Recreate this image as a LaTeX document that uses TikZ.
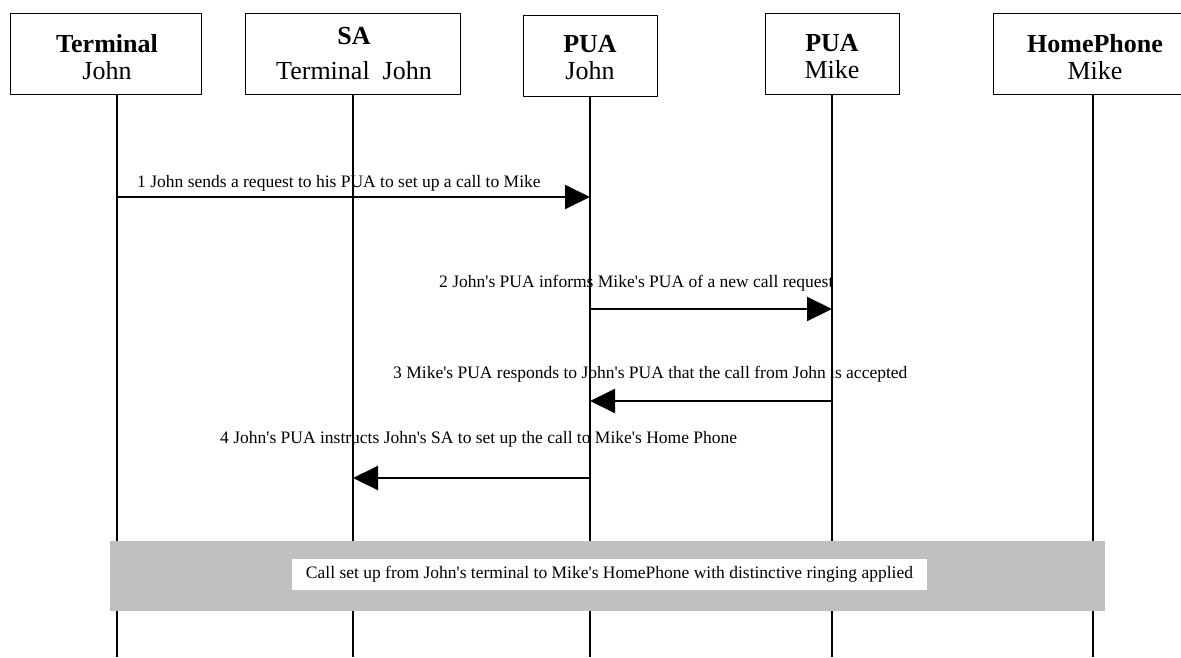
\documentclass[tikz,border=0pt]{standalone}
\usepackage{fontspec}
\setmainfont{Liberation Serif}
\usetikzlibrary{arrows.meta}
\definecolor{bandgray}{RGB}{192,192,192}
\newcommand\ap{\textquotesingle}
\begin{document}
\begin{tikzpicture}[x=1pt, y=-1pt, line join=round, font=\fontsize{17.5}{20}\selectfont,
	>={Triangle[length=25pt,width=24pt]},
	actor/.style={draw, line width=1.1pt, inner sep=0pt, minimum height=81pt, anchor=north west},
	who/.style={align=center, inner sep=0pt, font=\fontsize{26}{27}\selectfont},
	life/.style={line width=1.1pt},
	msg/.style={->, line width=2pt},
	lbl/.style={anchor=base west, inner sep=0pt}]
	\useasboundingbox (0,0) rectangle (1181,657);
	\def\ya{197} \def\yb{309} \def\yc{401} \def\yd{478} % message rows
	% actors
	\node[actor, minimum width=191pt] (tj) at (10,13) {};
	\node[actor, minimum width=215pt] (sa) at (245,13) {};
	\node[actor, minimum width=134pt] (pj) at (523,15) {};
	\node[actor, minimum width=134pt] (pm) at (765,13) {};
	\node[actor, minimum width=188pt] (hp) at (993,13) {};
	\node[who] (tjn) at (107,57.6) {\textbf{Terminal}\\John};
	\node[who] (san) at (354,53.9) {\textbf{SA}\\[8pt]Terminal\ \ John};
	\node[who] (pjn) at (590,58) {\textbf{PUA}\\John};
	\node[who] (pmn) at (832,57) {\textbf{PUA}\\Mike};
	\node[who] (hpn) at (1095,57) {\textbf{HomePhone}\\Mike};
	% lifelines
	\coordinate (tjb) at (117,657);
	\coordinate (sab) at (353,657);
	\coordinate (pjb) at (590,657);
	\coordinate (pmb) at (832,657);
	\coordinate (hpb) at (1093,657);
	\draw[life] (tj.south -| tjb) -- (tjb);
	\draw[life] (sa.south -| sab) -- (sab);
	\draw[life] (pj.south -| pjb) -- (pjb);
	\draw[life] (pm.south -| pmb) -- (pmb);
	\draw[life] (hp.south -| hpb) -- (hpb);
	% messages
	\draw[msg] (tjb |- 0,\ya) -- (pjb |- 0,\ya);
	\node[lbl] (l1) at (137,187) {1 John sends a request to his PUA to set up a call to Mike};
	\draw[msg] (pjb |- 0,\yb) -- (pmb |- 0,\yb);
	\node[lbl] (l2) at (439,287) {2 John\ap s PUA informs Mike\ap s PUA of a new call request};
	\draw[msg] (pmb |- 0,\yc) -- (pjb |- 0,\yc);
	\node[lbl] (l3) at (393,378) {3 Mike\ap s PUA responds to John\ap s PUA that the call from John is accepted};
	\draw[msg] (pjb |- 0,\yd) -- (sab |- 0,\yd);
	\node[lbl] (l4) at (220,443) {4 John\ap s PUA instructs John\ap s SA to set up the call to Mike\ap s Home Phone};
	% call set up band
	\node[fill=bandgray, inner sep=0pt, minimum width=995pt, minimum height=70pt, anchor=north west] (band) at (110,541) {};
	\node[fill=white, inner sep=0pt, minimum width=635pt, minimum height=31pt] (note) at (609.5,574.5) {Call set up from John\ap s terminal to Mike\ap s HomePhone with distinctive ringing applied};
\end{tikzpicture}
\end{document}
